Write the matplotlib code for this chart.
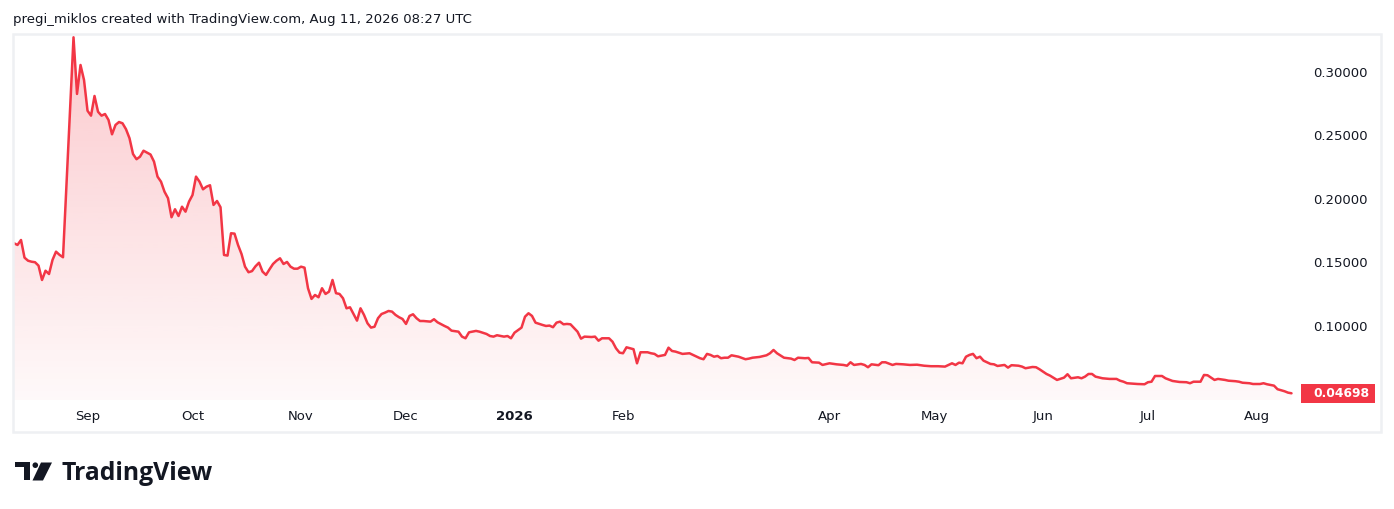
import numpy as np
import pandas as pd
import matplotlib
matplotlib.use("Agg")
import matplotlib.pyplot as plt
import matplotlib.dates as mdates
from matplotlib.patches import Rectangle, Polygon, Circle
from matplotlib.colors import LinearSegmentedColormap
from matplotlib.transforms import Affine2D

# ---------------- data ----------------
START = "2025-08-11"
day_offsets = [
    0, 1, 2, 3, 4, 5, 6, 7, 8, 9, 10, 11, 12, 13, 14, 17, 18, 19, 20, 21,
    22, 23, 24, 25, 26, 27, 28, 29, 30, 31, 32, 33, 34, 35, 36, 37, 38, 39, 40, 41,
    42, 43, 44, 45, 46, 47, 48, 49, 50, 51, 52, 53, 54, 55, 56, 57, 58, 59, 60, 61,
    62, 63, 64, 65, 66, 67, 68, 69, 70, 71, 72, 73, 74, 75, 76, 77, 78, 79, 80, 81,
    82, 83, 84, 85, 86, 87, 88, 89, 90, 91, 92, 93, 94, 95, 96, 97, 98, 99, 100, 101,
    102, 103, 104, 105, 106, 107, 108, 109, 110, 111, 112, 113, 114, 115, 116, 117, 119, 120, 121, 123,
    124, 125, 127, 128, 129, 130, 132, 133, 135, 136, 137, 138, 140, 141, 142, 143, 145, 146, 147, 148,
    149, 151, 152, 153, 154, 155, 156, 157, 158, 159, 161, 162, 163, 165, 166, 167, 168, 170, 171, 172,
    173, 174, 175, 177, 178, 179, 181, 182, 183, 184, 186, 187, 188, 189, 191, 193, 194, 196, 197, 198,
    199, 200, 201, 202, 203, 204, 205, 207, 209, 210, 211, 213, 215, 216, 217, 218, 220, 222, 223, 224,
    226, 227, 228, 230, 231, 233, 235, 237, 238, 239, 240, 242, 243, 244, 245, 247, 248, 249, 251, 252,
    254, 256, 258, 260, 262, 264, 266, 267, 268, 269, 270, 271, 272, 273, 274, 275, 276, 277, 279, 280,
    281, 283, 284, 285, 287, 288, 289, 291, 292, 293, 295, 296, 298, 300, 301, 302, 304, 305, 306, 307,
    308, 309, 311, 313, 315, 316, 317, 318, 321, 323, 324, 325, 326, 328, 329, 331, 333, 335, 336, 337,
    339, 340, 341, 342, 343, 344, 346, 347, 349, 350, 351, 353, 354, 356, 357, 358, 360, 361, 363, 364,
    365,
]
prices = [
    0.1651, 0.1638, 0.1677, 0.1538, 0.1514, 0.1506, 0.1502, 0.1475, 0.1362, 0.1435,
    0.1409, 0.1520, 0.1585, 0.1560, 0.1541, 0.3273, 0.2827, 0.3055, 0.2937, 0.2695,
    0.2656, 0.2811, 0.2687, 0.2656, 0.2669, 0.2622, 0.2509, 0.2583, 0.2606, 0.2596,
    0.2549, 0.2478, 0.2354, 0.2313, 0.2333, 0.2380, 0.2365, 0.2350, 0.2294, 0.2176,
    0.2136, 0.2057, 0.2006, 0.1856, 0.1919, 0.1866, 0.1939, 0.1900, 0.1979, 0.2031,
    0.2176, 0.2136, 0.2076, 0.2097, 0.2108, 0.1953, 0.1984, 0.1935, 0.1559, 0.1554,
    0.1730, 0.1727, 0.1638, 0.1567, 0.1467, 0.1423, 0.1432, 0.1470, 0.1498, 0.1428,
    0.1402, 0.1446, 0.1488, 0.1514, 0.1533, 0.1488, 0.1504, 0.1467, 0.1451, 0.1451,
    0.1467, 0.1459, 0.1297, 0.1213, 0.1244, 0.1226, 0.1297, 0.1252, 0.1270, 0.1362,
    0.1258, 0.1252, 0.1218, 0.1139, 0.1147, 0.1094, 0.1042, 0.1139, 0.1087, 0.1021,
    0.0987, 0.0994, 0.1061, 0.1094, 0.1105, 0.1118, 0.1113, 0.1087, 0.1069, 0.1055,
    0.1016, 0.1079, 0.1092, 0.1061, 0.1039, 0.1039, 0.1034, 0.1053, 0.1029, 0.1000,
    0.0987, 0.0963, 0.0955, 0.0916, 0.0903, 0.0950, 0.0961, 0.0955, 0.0937, 0.0921,
    0.0916, 0.0927, 0.0916, 0.0921, 0.0903, 0.0947, 0.0987, 0.1073, 0.1100, 0.1079,
    0.1026, 0.1008, 0.1000, 0.1003, 0.0990, 0.1026, 0.1034, 0.1013, 0.1016, 0.1013,
    0.0955, 0.0900, 0.0916, 0.0913, 0.0916, 0.0884, 0.0903, 0.0903, 0.0876, 0.0824,
    0.0790, 0.0785, 0.0832, 0.0817, 0.0706, 0.0793, 0.0793, 0.0785, 0.0780, 0.0761,
    0.0772, 0.0829, 0.0803, 0.0798, 0.0780, 0.0785, 0.0772, 0.0746, 0.0738, 0.0780,
    0.0772, 0.0758, 0.0764, 0.0746, 0.0750, 0.0750, 0.0769, 0.0758, 0.0738, 0.0743,
    0.0750, 0.0756, 0.0769, 0.0785, 0.0811, 0.0785, 0.0750, 0.0743, 0.0732, 0.0750,
    0.0746, 0.0748, 0.0714, 0.0711, 0.0693, 0.0706, 0.0698, 0.0693, 0.0687, 0.0714,
    0.0693, 0.0701, 0.0693, 0.0675, 0.0698, 0.0691, 0.0714, 0.0714, 0.0693, 0.0701,
    0.0698, 0.0693, 0.0695, 0.0687, 0.0683, 0.0683, 0.0680, 0.0693, 0.0706, 0.0693,
    0.0711, 0.0706, 0.0758, 0.0772, 0.0780, 0.0746, 0.0758, 0.0727, 0.0701, 0.0698,
    0.0685, 0.0693, 0.0672, 0.0691, 0.0687, 0.0680, 0.0667, 0.0677, 0.0675, 0.0659,
    0.0622, 0.0609, 0.0575, 0.0593, 0.0620, 0.0588, 0.0596, 0.0588, 0.0601, 0.0622,
    0.0622, 0.0601, 0.0588, 0.0583, 0.0583, 0.0569, 0.0561, 0.0549, 0.0543, 0.0541,
    0.0557, 0.0561, 0.0606, 0.0606, 0.0588, 0.0567, 0.0559, 0.0557, 0.0549, 0.0561,
    0.0561, 0.0614, 0.0612, 0.0593, 0.0575, 0.0583, 0.0575, 0.0569, 0.0565, 0.0561,
    0.0553, 0.0549, 0.0543, 0.0543, 0.0549, 0.0541, 0.0530, 0.0502, 0.0486, 0.0475,
    0.04698,
]
last_price = 0.04698
last_price_label = "0.04698"
y_ticks = [0.10, 0.15, 0.20, 0.25, 0.30]
month_ticks = ["2025-09-01", "2025-10-01", "2025-11-01", "2025-12-01", "2026-01-01",
               "2026-02-01", "2026-04-01", "2026-05-01", "2026-06-01", "2026-07-01",
               "2026-08-01"]
month_labels = ["Sep", "Oct", "Nov", "Dec", "2026", "Feb", "Apr", "May", "Jun", "Jul", "Aug"]
header_text = "pregi_miklos created with TradingView.com, Aug 11, 2026 08:27 UTC"
brand_text = "TradingView"

# ---------------- style ----------------
RED = "#F23645"
TXT = "#131722"
W, H = 1394, 509

fig = plt.figure(figsize=(W / 100, H / 100), dpi=100)
fig.patch.set_facecolor("white")
# pixel transform (origin top-left, y down)
PIX = Affine2D().scale(1 / W, -1 / H).translate(0, 1) + fig.transFigure


def fx(px):
    return px / W


def fy(py):
    return 1 - py / H


ax = fig.add_axes([fx(13), fy(400), fx(1295) - fx(13), fy(34) - fy(400)])
ax.set_facecolor("none")

start = pd.Timestamp(START)
dates = start + pd.to_timedelta(day_offsets, unit="D")
x = mdates.date2num(dates)
y = np.array(prices)

y0, y1 = 0.0417, 0.3299
x0 = mdates.date2num(start) - 0.29
x1 = mdates.date2num(start) + 366.0

# gradient area
poly = ax.fill_between(x, y, y0, color="none", lw=0)
r, g, b = 242 / 255, 54 / 255, 69 / 255
cmap = LinearSegmentedColormap.from_list("g", [(r, g, b, 0.03), (r, g, b, 0.27)])
grad = np.linspace(0, 1, 256).reshape(-1, 1)
im = ax.imshow(grad, extent=[x0, x1, y0, y1], origin="lower", aspect="auto",
               cmap=cmap, zorder=1, interpolation="bilinear")
im.set_clip_path(poly.get_paths()[0], transform=ax.transData)

ax.plot(x, y, color=RED, lw=1.8, solid_joinstyle="round", solid_capstyle="round", zorder=3)

ax.set_xlim(x0, x1)
ax.set_ylim(y0, y1)
for s in ax.spines.values():
    s.set_visible(False)

ax.yaxis.tick_right()
ax.set_yticks(y_ticks)
ax.set_yticklabels([f"{v:.5f}" for v in y_ticks])
ax.tick_params(axis="y", length=0, pad=13, labelsize=9.5, labelcolor=TXT)

ax.set_xticks(mdates.date2num(pd.to_datetime(month_ticks)))
ax.set_xticklabels(month_labels)
ax.tick_params(axis="x", length=0, pad=7.5, labelsize=9.5, labelcolor=TXT)
for lbl in ax.get_xticklabels():
    if lbl.get_text() == "2026":
        lbl.set_fontweight("bold")

# outer frame of chart
fig.add_artist(Rectangle((12.5, 33.5), 1368, 399, transform=PIX, fill=False,
                         ec="#eef0f3", lw=1.8))

# last price label
yc_disp = ax.transData.transform((x1, last_price))[1]
yc = H - yc_disp
fig.add_artist(Rectangle((1301, yc - 9.7), 74, 19.4, transform=PIX, fc=RED, ec="none"))
fig.text(fx(1313), fy(yc), last_price_label, color="white", fontsize=8.9,
         fontweight="bold", va="center", ha="left")

# header
hdr = fig.text(fx(13), fy(20), header_text, fontsize=9.5, color=TXT, va="center", ha="left")

# brand logo
fig.add_artist(Rectangle((15, 462.5), 15, 5, transform=PIX, fc=TXT, ec="none"))
fig.add_artist(Rectangle((23.5, 462.5), 6.5, 18, transform=PIX, fc=TXT, ec="none"))
fig.add_artist(Circle((35.3, 465.2), 2.8, transform=PIX, fc=TXT, ec="none"))
fig.add_artist(Polygon([(41, 462.5), (52, 462.5), (43, 480.5), (32.5, 480.5)],
                       closed=True, transform=PIX, fc=TXT, ec="none"))
brand = fig.text(fx(61.5), fy(480.5), brand_text, fontsize=17, fontweight="bold",
                 family=["Open Sans", "DejaVu Sans"], color=TXT, va="baseline", ha="left")

# fit text widths
fig.canvas.draw()
rend = fig.canvas.get_renderer()
for t, target in [(hdr, 462.0), (brand, 152.0)]:
    wpx = t.get_window_extent(rend).width
    t.set_fontsize(t.get_fontsize() * target / wpx)

fig.savefig("out.png", dpi=100, facecolor="white")
